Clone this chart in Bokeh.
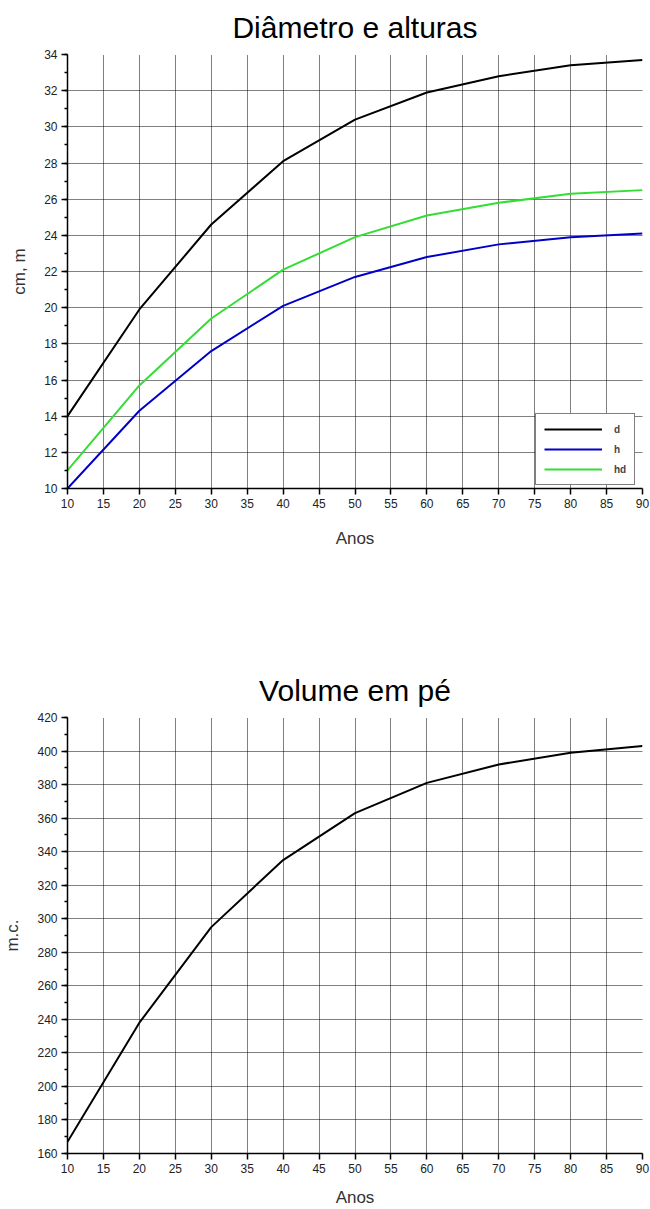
from bokeh.plotting import figure
from bokeh.layouts import column
from bokeh.models import Range1d, SingleIntervalTicker
from bokeh.embed import file_html
from bokeh.resources import INLINE

anos = [10, 20, 30, 40, 50, 60, 70, 80, 90]
d = [14.0, 19.9, 24.6, 28.1, 30.4, 31.9, 32.8, 33.4, 33.7]
h = [10.0, 14.3, 17.6, 20.1, 21.7, 22.8, 23.5, 23.9, 24.1]
hd = [11.0, 15.7, 19.4, 22.1, 23.9, 25.1, 25.8, 26.3, 26.5]
volume = [167, 238, 295, 335, 363, 381, 392, 399, 403]

FONT = "Liberation Sans"


def style(p, ylabel, yint, xstandoff):
    p.outline_line_color = None
    p.title.text_font = FONT
    p.title.text_font_size = "30px"
    p.title.text_font_style = "normal"
    p.title.align = "center"
    p.title.vertical_align = "top"
    p.title.text_color = "#000000"
    p.title.standoff = 18
    p.xaxis.ticker = SingleIntervalTicker(interval=5, num_minor_ticks=0)
    p.yaxis.ticker = SingleIntervalTicker(interval=yint, num_minor_ticks=2)
    for ax in (p.xaxis[0], p.yaxis[0]):
        ax.axis_line_color = "#000000"
        ax.axis_line_width = 1.5
        ax.major_tick_line_color = "#000000"
        ax.major_tick_line_width = 1.5
        ax.minor_tick_line_color = "#000000"
        ax.minor_tick_line_width = 1.5
        ax.major_tick_out = 6
        ax.major_tick_in = 0
        ax.minor_tick_out = 3
        ax.minor_tick_in = 0
        ax.major_label_text_font = FONT
        ax.major_label_text_font_size = "12px"
        ax.major_label_text_color = "#222222"
        ax.axis_label_text_font = FONT
        ax.axis_label_text_font_size = "17px"
        ax.axis_label_text_font_style = "normal"
        ax.axis_label_text_color = "#333333"
        ax.major_label_standoff = 4
    p.xaxis.axis_label = "Anos"
    p.yaxis.axis_label = ylabel
    p.xaxis.axis_label_standoff = xstandoff
    p.yaxis.axis_label_standoff = 12
    for g in (p.xgrid[0], p.ygrid[0]):
        g.grid_line_color = "#000000"
        g.grid_line_dash = "1 1"
        g.grid_line_width = 1
        g.grid_line_alpha = 1


p1 = figure(width=650, height=586, title="Diâmetro e alturas",
            x_range=Range1d(10, 90), y_range=Range1d(10, 34),
            output_backend="svg", toolbar_location=None,
            min_border_left=67, min_border_right=8,
            min_border_top=54, min_border_bottom=98)
style(p1, "cm, m", 2, 18)
p1.line(anos, d, line_color="#000000", line_width=2, legend_label="d")
p1.line(anos, h, line_color="#0000c8", line_width=2, legend_label="h")
p1.line(anos, hd, line_color="#33dd33", line_width=2, legend_label="hd")
lg = p1.legend[0]
lg.location = (468, 3)
lg.border_line_color = "#000000"
lg.border_line_width = 1
lg.background_fill_color = "#ffffff"
lg.background_fill_alpha = 1
lg.label_text_font = FONT
lg.label_text_font_size = "10px"
lg.label_text_font_style = "bold"
lg.glyph_width = 58
lg.glyph_height = 14
lg.label_standoff = 12
lg.label_width = 10
lg.spacing = 6
lg.padding = 8
lg.margin = 0
lg.label_height = 14

p2 = figure(width=650, height=623, title="Volume em pé",
            x_range=Range1d(10, 90), y_range=Range1d(160, 420),
            output_backend="svg", toolbar_location=None,
            min_border_left=67, min_border_right=8,
            min_border_top=131, min_border_bottom=56)
style(p2, "m.c.", 20, 12)
p2.line(anos, volume, line_color="#000000", line_width=2)

layout = column(p1, p2, spacing=0)
open("out.html", "w").write(file_html(layout, INLINE))
